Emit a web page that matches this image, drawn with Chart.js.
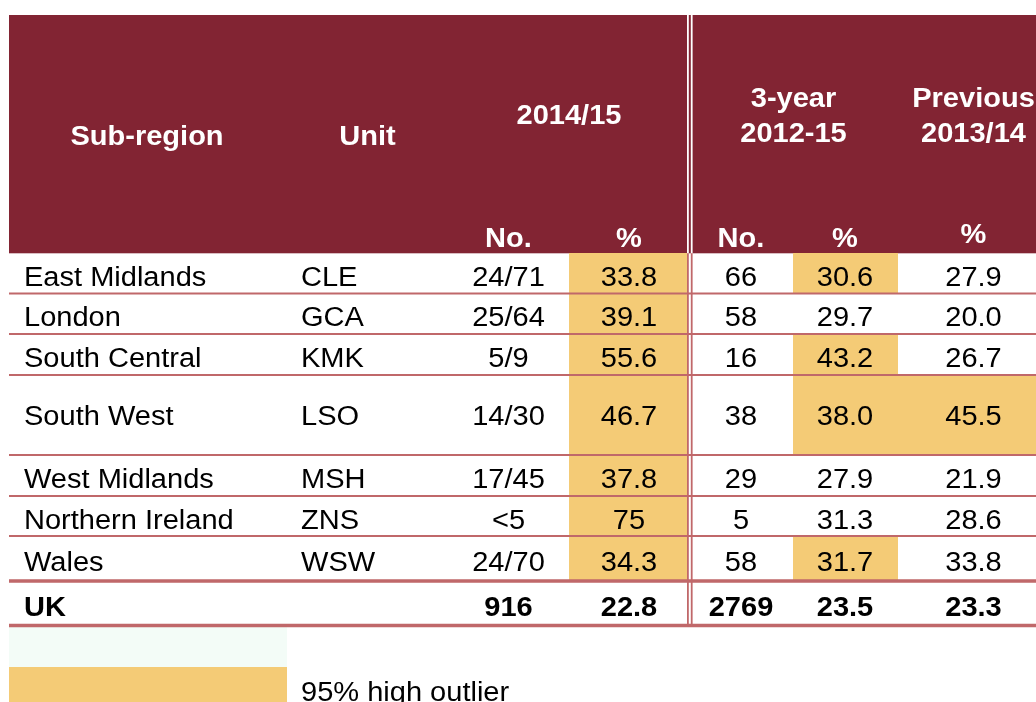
<!DOCTYPE html>
<html>
<head>
<meta charset="utf-8">
<script src="https://cdn.jsdelivr.net/npm/chart.js@4"></script>
<style>
  html, body { margin: 0; padding: 0; background: #fff; font-family: "Liberation Sans", Arial, sans-serif; }
  #wrap { width: 1036px; height: 702px; }
</style>
</head>
<body>
<div id="wrap"><canvas id="tbl" width="1036" height="702"></canvas></div>
<script>
// ---- Data ----
const subRegions = ["East Midlands", "London", "South Central", "South West", "West Midlands", "Northern Ireland", "Wales"];
const unitCodes = ["CLE", "GCA", "KMK", "LSO", "MSH", "ZNS", "WSW"];
const count1415 = ["24/71", "25/64", "5/9", "14/30", "17/45", "<5", "24/70"];
const pct1415 = ["33.8", "39.1", "55.6", "46.7", "37.8", "75", "34.3"];
const count3yr = ["66", "58", "16", "38", "29", "5", "58"];
const pct3yr = ["30.6", "29.7", "43.2", "38.0", "27.9", "31.3", "31.7"];
const pctPrev = ["27.9", "20.0", "26.7", "45.5", "21.9", "28.6", "33.8"];
// 95% high outlier flags
const outlier1415 = [1, 1, 1, 1, 1, 1, 1];
const outlier3yr = [1, 0, 1, 1, 0, 0, 1];
const outlierPrev = [0, 0, 0, 1, 0, 0, 0];
const totalLabel = "UK";
const ukTotals = ["916", "22.8", "2769", "23.5", "23.3"];
const groupHeaders = ["Sub-region", "Unit", "2014/15", "3-year\n2012-15", "Previous\n2013/14"];
const subHeaders = ["No.", "%", "No.", "%", "%"];
const legendLabels = ["", "95% high outlier"];

// ---- Layout (scale units = px) ----
const rowEdges = [253, 293.5, 334, 375, 455, 496, 536, 581, 625.5];
const valueCols = [508.5, 629, 741, 845, 973.5];   // centres of No./% columns
const hiCols = { 1: [569, 687], 3: [793, 898], 4: [898, 1036] };
const MAROON = "#822433", ROSE = "#C0686A", AMBER = "#F4CB76", MINT = "#F3FCF7";
const FONT = '"Liberation Sans", Arial, Helvetica, sans-serif';

const tablePlugin = {
  id: "tablePlugin",
  afterDraw(chart) {
    const ctx = chart.ctx;
    const X = v => chart.scales.x.getPixelForValue(v);
    const Y = v => chart.scales.y.getPixelForValue(v);
    const rect = (x0, y0, x1, y1, c) => {
      ctx.fillStyle = c;
      ctx.fillRect(X(x0), Y(y0), X(x1) - X(x0), Y(y1) - Y(y0));
    };
    const text = (s, x, y, align, bold, color) => {
      ctx.save();
      ctx.translate(X(x), Y(y));
      ctx.scale(1.075, 1);
      ctx.font = (bold ? "bold " : "") + "27px " + FONT;
      ctx.fillStyle = color || "#000";
      ctx.textAlign = align;
      ctx.textBaseline = "alphabetic";
      ctx.fillText(s, 0, 0);
      ctx.restore();
    };

    // header block
    rect(9, 15, 1036, 253.3, MAROON);
    rect(687, 15, 688.8, 253.3, "#fff");
    rect(690.8, 15, 692.6, 253.3, "#fff");

    // outlier cells
    const flags = { 1: outlier1415, 3: outlier3yr, 4: outlierPrev };
    Object.keys(flags).forEach(k => {
      flags[k].forEach((f, i) => {
        if (f) rect(hiCols[k][0], rowEdges[i], hiCols[k][1], rowEdges[i + 1], AMBER);
      });
    });

    // legend swatches
    rect(9, 627, 287, 667, MINT);
    rect(9, 667, 287, 702, AMBER);

    // row rules
    rowEdges.slice(1).forEach((y, i) => {
      const w = i >= 6 ? 3.5 : 2;
      rect(9, y - w / 2, 1036, y + w / 2, ROSE);
    });
    // double vertical rule in body
    rect(687, 253.3, 688.8, 627, ROSE);
    rect(690.8, 253.3, 692.6, 627, ROSE);

    // header text
    text(groupHeaders[0], 147, 145, "center", true, "#fff");
    text(groupHeaders[1], 367.5, 145, "center", true, "#fff");
    text(groupHeaders[2], 569, 124, "center", true, "#fff");
    groupHeaders[3].split("\n").forEach((l, j) => text(l, 793.5, 106.5 + j * 35, "center", true, "#fff"));
    groupHeaders[4].split("\n").forEach((l, j) => text(l, 973.5, 106.5 + j * 35, "center", true, "#fff"));
    subHeaders.forEach((s, j) => text(s, valueCols[j], j === 4 ? 243 : 247, "center", true, "#fff"));

    // body rows
    subRegions.forEach((name, i) => {
      const base = (rowEdges[i] + rowEdges[i + 1]) / 2 + (i === 3 ? 10 : 12.5);
      text(name, 24, base, "left");
      text(unitCodes[i], 301, base, "left");
      [count1415[i], pct1415[i], count3yr[i], pct3yr[i], pctPrev[i]]
        .forEach((v, j) => text(v, valueCols[j], base, "center"));
    });

    // UK total row
    const ukBase = (rowEdges[7] + rowEdges[8]) / 2 + 13;
    text(totalLabel, 24, ukBase, "left", true);
    ukTotals.forEach((v, j) => text(v, valueCols[j], ukBase, "center", true));

    // legend text
    text(legendLabels[1], 301, 700.5, "left");
  }
};

function build() {
  new Chart(document.getElementById("tbl"), {
    type: "scatter",
    data: { datasets: [{ data: [], pointRadius: 0 }] },
    options: {
      responsive: false,
      animation: false,
      layout: { padding: 0 },
      plugins: { legend: { display: false }, tooltip: { enabled: false } },
      scales: {
        x: { type: "linear", min: 0, max: 1036, display: false },
        y: { type: "linear", min: 0, max: 702, reverse: true, display: false }
      }
    }, 
    plugins: [tablePlugin]
  });
}

Promise.all([
  document.fonts.load('27px "Liberation Sans"'),
  document.fonts.load('bold 27px "Liberation Sans"')
]).then(build, build);
</script>
</body>
</html>
